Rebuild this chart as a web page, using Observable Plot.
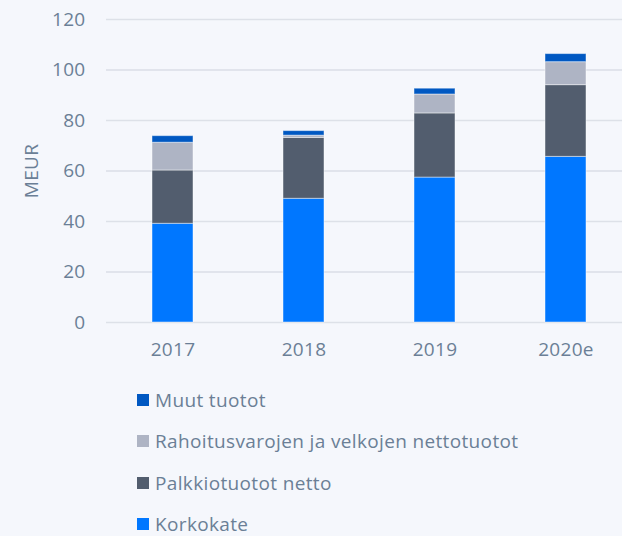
<!DOCTYPE html>
<html>
<head>
<meta charset="utf-8">
<script src="https://cdn.jsdelivr.net/npm/d3@7"></script>
<script src="https://cdn.jsdelivr.net/npm/@observablehq/plot@0.6"></script>
<style>
  html, body { margin: 0; padding: 0; background: #f5f7fc; overflow: hidden; }
  body { width: 622px; height: 536px; font-family: "Open Sans", sans-serif; color: #6b7f96; }
  #legend { padding-left: 137px; }
  .row { height: 41.5px; display: flex; align-items: center; font-size: 19px; letter-spacing: 0.35px; }
  .sw { width: 12px; height: 12px; margin-right: 6px; flex: none; }
  svg text { letter-spacing: 0.3px; }
</style>
</head>
<body>
<div id="chart"></div>
<div id="legend"></div>
<script>
const years = ["2017", "2018", "2019", "2020e"];
const seriesNames = ["Korkokate", "Palkkiotuotot netto", "Rahoitusvarojen ja velkojen nettotuotot", "Muut tuotot"];
const korkokate = [39.1, 49.0, 57.4, 65.6];
const palkkio = [21.1, 24.1, 25.4, 28.4];
const rahoitus = [11.0, 0.9, 7.5, 9.1];
const muut = [2.6, 1.8, 2.3, 3.2];
const colors = ["#0077ff", "#525d6e", "#aeb4c4", "#0058c2"];
const yTicks = [0, 20, 40, 60, 80, 100, 120];

const seriesValues = [korkokate, palkkio, rahoitus, muut];
const data = [];
seriesNames.forEach((s, i) => years.forEach((y, j) => data.push({year: y, series: s, value: seriesValues[i][j]})));

const chart = Plot.plot({
  width: 622,
  height: 379,
  marginTop: 19,
  marginBottom: 57,
  marginLeft: 106,
  marginRight: 0,
  style: {background: "transparent", fontFamily: "'Open Sans', sans-serif", fontSize: "19px", color: "#6b7f96"},
  x: {domain: years, range: [106, 632], paddingInner: 0.69, paddingOuter: 0.342, label: null, tickSize: 0, tickPadding: 20},
  y: {domain: [0, 120], ticks: yTicks, grid: true, label: "MEUR", labelAnchor: "center", labelArrow: false, labelOffset: 82, tickSize: 0, tickPadding: 21},
  color: {domain: seriesNames, range: colors},
  marks: [
    Plot.gridY(yTicks, {stroke: "#dde1e8", strokeOpacity: 1, strokeWidth: 1.5}),
    Plot.barY(data, Plot.stackY({x: "year", y: "value", fill: "series", order: seriesNames, stroke: "#ffffff", strokeOpacity: 0.45, strokeWidth: 1}))
  ]
});
document.getElementById("chart").appendChild(chart);

const legend = document.getElementById("legend");
[3, 2, 1, 0].forEach(i => {
  const row = document.createElement("div");
  row.className = "row";
  const sw = document.createElement("span");
  sw.className = "sw";
  sw.style.background = colors[i];
  const t = document.createElement("span");
  t.textContent = seriesNames[i];
  row.appendChild(sw);
  row.appendChild(t);
  legend.appendChild(row);
});
</script>
</body>
</html>
